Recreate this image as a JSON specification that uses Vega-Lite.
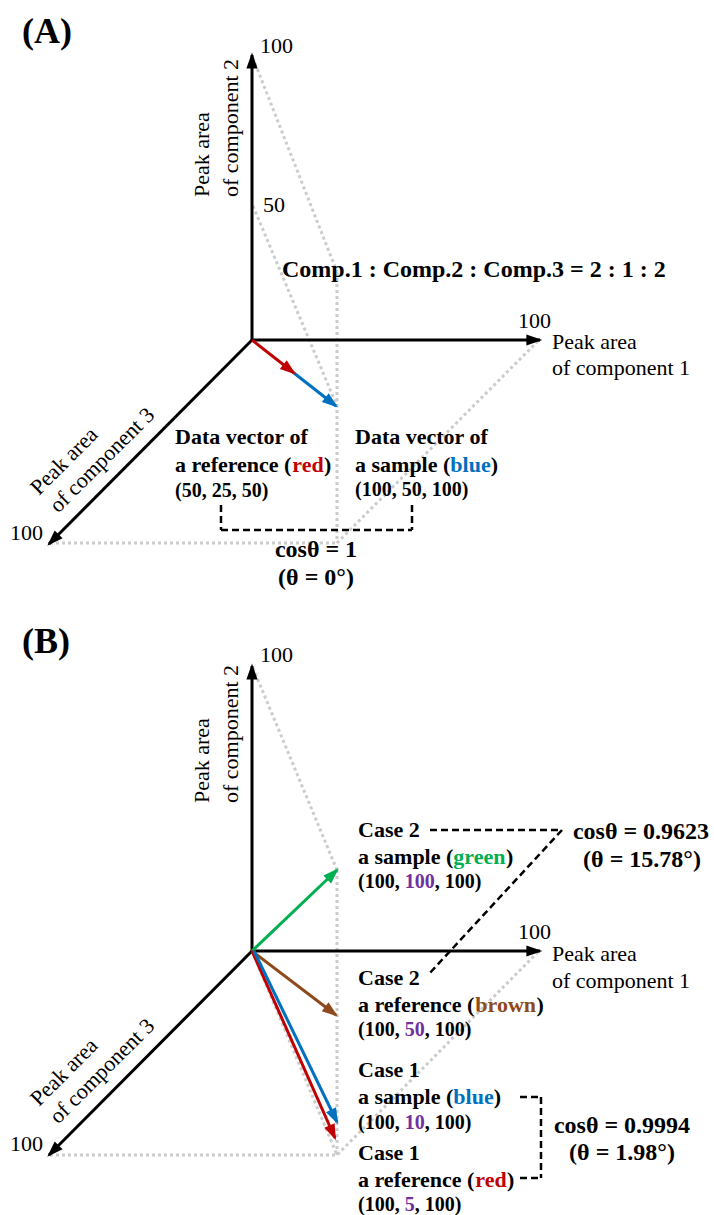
{
  "$schema": "https://vega.github.io/schema/vega-lite/v6.json",
  "width": 714,
  "height": 1215,
  "autosize": {"type": "fit", "contains": "padding"},
  "padding": 0,
  "background": "white",
  "config": {"view": {"stroke": null}, "font": "Liberation Serif"},
  "datasets": {
    "guides": [
      {"x": 253, "y": 58, "x2": 337, "y2": 272, "tone": "gray"},
      {"x": 337, "y": 272, "x2": 337, "y2": 543, "tone": "gray"},
      {"x": 253, "y": 206, "x2": 337, "y2": 406, "tone": "gray"},
      {"x": 50, "y": 543, "x2": 337, "y2": 543, "tone": "gray"},
      {"x": 538, "y": 341, "x2": 337, "y2": 543, "tone": "gray"},
      {"x": 253, "y": 668, "x2": 337, "y2": 870, "tone": "gray"},
      {"x": 337, "y": 870, "x2": 337, "y2": 1155, "tone": "gray"},
      {"x": 50, "y": 1155, "x2": 337, "y2": 1155, "tone": "gray"},
      {"x": 538, "y": 952, "x2": 337, "y2": 1155, "tone": "gray"},
      {"x": 252, "y": 951, "x2": 337, "y2": 1155, "tone": "gray"}
    ],
    "dashes": [
      {"x": 221, "y": 505, "x2": 221, "y2": 530, "tone": "black"},
      {"x": 221, "y": 530, "x2": 412, "y2": 530, "tone": "black"},
      {"x": 412, "y": 505, "x2": 412, "y2": 530, "tone": "black"},
      {"x": 430, "y": 830, "x2": 562, "y2": 830, "tone": "black"},
      {"x": 562, "y": 830, "x2": 428, "y2": 975, "tone": "black"},
      {"x": 520, "y": 1097, "x2": 541, "y2": 1097, "tone": "black"},
      {"x": 541, "y": 1097, "x2": 541, "y2": 1178, "tone": "black"},
      {"x": 520, "y": 1178, "x2": 541, "y2": 1178, "tone": "black"}
    ],
    "arrows": [
      {"x": 252, "y": 340, "x2": 252, "y2": 55, "tone": "black", "heading": 0},
      {"x": 252, "y": 340, "x2": 540, "y2": 340, "tone": "black", "heading": 90},
      {"x": 252, "y": 340, "x2": 49, "y2": 544, "tone": "black", "heading": 225},
      {"x": 252, "y": 340, "x2": 294, "y2": 373, "tone": "red", "heading": 128},
      {"x": 294, "y": 373, "x2": 336, "y2": 406, "tone": "blue", "heading": 128},
      {"x": 252, "y": 951, "x2": 252, "y2": 666, "tone": "black", "heading": 0},
      {"x": 252, "y": 951, "x2": 540, "y2": 951, "tone": "black", "heading": 90},
      {"x": 252, "y": 951, "x2": 49, "y2": 1155, "tone": "black", "heading": 225},
      {"x": 252, "y": 951, "x2": 337, "y2": 870, "tone": "green", "heading": 46},
      {"x": 252, "y": 951, "x2": 336, "y2": 1015, "tone": "brown", "heading": 127},
      {"x": 252, "y": 951, "x2": 335, "y2": 1138, "tone": "red", "heading": 156},
      {"x": 254, "y": 951, "x2": 337, "y2": 1122, "tone": "blue", "heading": 154}
    ],
    "texts": [
      {"x": 22, "y": 32, "text": "(A)", "style": "panel", "tone": "black"},
      {"x": 22, "y": 642, "text": "(B)", "style": "panel", "tone": "black"},
      {"x": 260, "y": 46, "text": "100", "style": "tick", "tone": "black"},
      {"x": 263, "y": 205, "text": "50", "style": "tick", "tone": "black"},
      {"x": 518, "y": 321, "text": "100", "style": "tick", "tone": "black"},
      {"x": 10, "y": 533, "text": "100", "style": "tick", "tone": "black"},
      {"x": 260, "y": 655, "text": "100", "style": "tick", "tone": "black"},
      {"x": 518, "y": 932, "text": "100", "style": "tick", "tone": "black"},
      {"x": 10, "y": 1144, "text": "100", "style": "tick", "tone": "black"},
      {"x": 552, "y": 342, "text": "Peak area", "style": "axis", "tone": "black"},
      {"x": 552, "y": 368, "text": "of component 1", "style": "axis", "tone": "black"},
      {"x": 552, "y": 954, "text": "Peak area", "style": "axis", "tone": "black"},
      {"x": 552, "y": 981, "text": "of component 1", "style": "axis", "tone": "black"},
      {"x": 202, "y": 197, "text": "Peak area", "style": "axisv", "tone": "black"},
      {"x": 231, "y": 197, "text": "of component 2", "style": "axisv", "tone": "black"},
      {"x": 202, "y": 803, "text": "Peak area", "style": "axisv", "tone": "black"},
      {"x": 231, "y": 803, "text": "of component 2", "style": "axisv", "tone": "black"},
      {"x": 64, "y": 461, "text": "Peak area", "style": "axisd", "tone": "black"},
      {"x": 102, "y": 460, "text": "of component 3", "style": "axisd", "tone": "black"},
      {"x": 64, "y": 1072, "text": "Peak area", "style": "axisd", "tone": "black"},
      {"x": 102, "y": 1071, "text": "of component 3", "style": "axisd", "tone": "black"},
      {"x": 282, "y": 270, "text": "Comp.1 : Comp.2 : Comp.3 = 2 : 1 : 2", "style": "title", "tone": "black"},
      {"x": 175, "y": 437, "text": "Data vector of", "style": "label", "tone": "black"},
      {"x": 175, "y": 465, "text": "a reference (", "style": "label", "tone": "black"},
      {"x": 292.3, "y": 465, "text": "red", "style": "label", "tone": "red"},
      {"x": 324.0, "y": 465, "text": ")", "style": "label", "tone": "black"},
      {"x": 175, "y": 491, "text": "(50, 25, 50)", "style": "coord", "tone": "black"},
      {"x": 355, "y": 437, "text": "Data vector of", "style": "label", "tone": "black"},
      {"x": 355, "y": 465, "text": "a sample (", "style": "label", "tone": "black"},
      {"x": 450.3, "y": 465, "text": "blue", "style": "label", "tone": "blue"},
      {"x": 490.7, "y": 465, "text": ")", "style": "label", "tone": "black"},
      {"x": 355, "y": 490, "text": "(100, 50, 100)", "style": "coord", "tone": "black"},
      {"x": 316, "y": 550, "text": "cosθ = 1", "style": "cos", "tone": "black"},
      {"x": 316, "y": 578, "text": "(θ = 0°)", "style": "cos", "tone": "black"},
      {"x": 358, "y": 830, "text": "Case 2", "style": "label", "tone": "black"},
      {"x": 358, "y": 857, "text": "a sample (", "style": "label", "tone": "black"},
      {"x": 453.3, "y": 857, "text": "green", "style": "label", "tone": "green"},
      {"x": 505.9, "y": 857, "text": ")", "style": "label", "tone": "black"},
      {"x": 358, "y": 882, "text": "(100, ", "style": "coord", "tone": "black"},
      {"x": 404.7, "y": 882, "text": "100", "style": "coord", "tone": "purple"},
      {"x": 434.7, "y": 882, "text": ", 100)", "style": "coord", "tone": "black"},
      {"x": 641, "y": 832, "text": "cosθ = 0.9623", "style": "cos", "tone": "black"},
      {"x": 642, "y": 860, "text": "(θ = 15.78°)", "style": "cos", "tone": "black"},
      {"x": 358, "y": 978, "text": "Case 2", "style": "label", "tone": "black"},
      {"x": 358, "y": 1005, "text": "a reference (", "style": "label", "tone": "black"},
      {"x": 475.3, "y": 1005, "text": "brown", "style": "label", "tone": "brown"},
      {"x": 536.4, "y": 1005, "text": ")", "style": "label", "tone": "black"},
      {"x": 358, "y": 1030, "text": "(100, ", "style": "coord", "tone": "black"},
      {"x": 404.7, "y": 1030, "text": "50", "style": "coord", "tone": "purple"},
      {"x": 424.7, "y": 1030, "text": ", 100)", "style": "coord", "tone": "black"},
      {"x": 358, "y": 1070, "text": "Case 1", "style": "label", "tone": "black"},
      {"x": 358, "y": 1097, "text": "a sample (", "style": "label", "tone": "black"},
      {"x": 453.3, "y": 1097, "text": "blue", "style": "label", "tone": "blue"},
      {"x": 493.7, "y": 1097, "text": ")", "style": "label", "tone": "black"},
      {"x": 358, "y": 1123, "text": "(100, ", "style": "coord", "tone": "black"},
      {"x": 404.7, "y": 1123, "text": "10", "style": "coord", "tone": "purple"},
      {"x": 424.7, "y": 1123, "text": ", 100)", "style": "coord", "tone": "black"},
      {"x": 358, "y": 1153, "text": "Case 1", "style": "label", "tone": "black"},
      {"x": 358, "y": 1180, "text": "a reference (", "style": "label", "tone": "black"},
      {"x": 475.3, "y": 1180, "text": "red", "style": "label", "tone": "red"},
      {"x": 507.0, "y": 1180, "text": ")", "style": "label", "tone": "black"},
      {"x": 358, "y": 1205, "text": "(100, ", "style": "coord", "tone": "black"},
      {"x": 404.7, "y": 1205, "text": "5", "style": "coord", "tone": "purple"},
      {"x": 414.7, "y": 1205, "text": ", 100)", "style": "coord", "tone": "black"},
      {"x": 622, "y": 1126, "text": "cosθ = 0.9994", "style": "cos", "tone": "black"},
      {"x": 622, "y": 1153, "text": "(θ = 1.98°)", "style": "cos", "tone": "black"}
    ]
  },
  "layer": [
    {
      "data": {"name": "guides"},
      "mark": {"type": "rule", "strokeWidth": 3, "strokeDash": [3, 3]},
      "encoding": {
        "x": {"field": "x", "type": "quantitative", "scale": {"domain": [0, 714], "nice": false, "zero": false}, "axis": null},
        "y": {"field": "y", "type": "quantitative", "scale": {"domain": [0, 1215], "nice": false, "zero": false, "reverse": true}, "axis": null},
        "x2": {"field": "x2"},
        "y2": {"field": "y2"},
        "color": {"field": "tone", "type": "nominal", "scale": {"domain": ["black", "red", "blue", "green", "brown", "purple", "gray"], "range": ["#000000", "#C00000", "#0070C0", "#00B050", "#8E4A1C", "#7030A0", "#CCCCCC"]}, "legend": null}
      }
    },
    {
      "data": {"name": "dashes"},
      "mark": {"type": "rule", "strokeWidth": 2.5, "strokeDash": [7, 4]},
      "encoding": {
        "x": {"field": "x", "type": "quantitative", "scale": {"domain": [0, 714], "nice": false, "zero": false}, "axis": null},
        "y": {"field": "y", "type": "quantitative", "scale": {"domain": [0, 1215], "nice": false, "zero": false, "reverse": true}, "axis": null},
        "x2": {"field": "x2"},
        "y2": {"field": "y2"},
        "color": {"field": "tone", "type": "nominal", "legend": null}
      }
    },
    {
      "data": {"name": "arrows"},
      "mark": {"type": "rule", "strokeWidth": 3},
      "encoding": {
        "x": {"field": "x", "type": "quantitative", "scale": {"domain": [0, 714], "nice": false, "zero": false}, "axis": null},
        "y": {"field": "y", "type": "quantitative", "scale": {"domain": [0, 1215], "nice": false, "zero": false, "reverse": true}, "axis": null},
        "x2": {"field": "x2"},
        "y2": {"field": "y2"},
        "color": {"field": "tone", "type": "nominal", "legend": null}
      }
    },
    {
      "data": {"name": "arrows"},
      "mark": {"type": "point", "shape": "M0,-0.3L0.7,1.7L-0.7,1.7Z", "filled": true, "opacity": 1, "size": 256, "strokeWidth": 0},
      "encoding": {
        "x": {"field": "x2", "type": "quantitative", "scale": {"domain": [0, 714], "nice": false, "zero": false}, "axis": null},
        "y": {"field": "y2", "type": "quantitative", "scale": {"domain": [0, 1215], "nice": false, "zero": false, "reverse": true}, "axis": null},
        "angle": {"field": "heading", "type": "quantitative", "scale": null},
        "color": {"field": "tone", "type": "nominal", "legend": null}
      }
    },
    {
      "data": {"name": "texts"},
      "transform": [{"filter": "datum.style === 'panel'"}],
      "mark": {"type": "text", "font": "Liberation Serif", "fontSize": 36, "fontWeight": "bold", "align": "left", "baseline": "middle"},
      "encoding": {
        "x": {"field": "x", "type": "quantitative", "scale": {"domain": [0, 714], "nice": false, "zero": false}, "axis": null},
        "y": {"field": "y", "type": "quantitative", "scale": {"domain": [0, 1215], "nice": false, "zero": false, "reverse": true}, "axis": null},
        "text": {"field": "text"},
        "color": {"field": "tone", "type": "nominal", "legend": null}
      }
    },
    {
      "data": {"name": "texts"},
      "transform": [{"filter": "datum.style === 'tick' || datum.style === 'axis'"}],
      "mark": {"type": "text", "font": "Liberation Serif", "fontSize": 22, "align": "left", "baseline": "middle"},
      "encoding": {
        "x": {"field": "x", "type": "quantitative", "scale": {"domain": [0, 714], "nice": false, "zero": false}, "axis": null},
        "y": {"field": "y", "type": "quantitative", "scale": {"domain": [0, 1215], "nice": false, "zero": false, "reverse": true}, "axis": null},
        "text": {"field": "text"},
        "color": {"field": "tone", "type": "nominal", "legend": null}
      }
    },
    {
      "data": {"name": "texts"},
      "transform": [{"filter": "datum.style === 'axisv'"}],
      "mark": {"type": "text", "font": "Liberation Serif", "fontSize": 22, "align": "left", "baseline": "middle", "angle": 270},
      "encoding": {
        "x": {"field": "x", "type": "quantitative", "scale": {"domain": [0, 714], "nice": false, "zero": false}, "axis": null},
        "y": {"field": "y", "type": "quantitative", "scale": {"domain": [0, 1215], "nice": false, "zero": false, "reverse": true}, "axis": null},
        "text": {"field": "text"},
        "color": {"field": "tone", "type": "nominal", "legend": null}
      }
    },
    {
      "data": {"name": "texts"},
      "transform": [{"filter": "datum.style === 'axisd'"}],
      "mark": {"type": "text", "font": "Liberation Serif", "fontSize": 22, "align": "center", "baseline": "middle", "angle": 315},
      "encoding": {
        "x": {"field": "x", "type": "quantitative", "scale": {"domain": [0, 714], "nice": false, "zero": false}, "axis": null},
        "y": {"field": "y", "type": "quantitative", "scale": {"domain": [0, 1215], "nice": false, "zero": false, "reverse": true}, "axis": null},
        "text": {"field": "text"},
        "color": {"field": "tone", "type": "nominal", "legend": null}
      }
    },
    {
      "data": {"name": "texts"},
      "transform": [{"filter": "datum.style === 'title'"}],
      "mark": {"type": "text", "font": "Liberation Serif", "fontSize": 24, "fontWeight": "bold", "align": "left", "baseline": "middle"},
      "encoding": {
        "x": {"field": "x", "type": "quantitative", "scale": {"domain": [0, 714], "nice": false, "zero": false}, "axis": null},
        "y": {"field": "y", "type": "quantitative", "scale": {"domain": [0, 1215], "nice": false, "zero": false, "reverse": true}, "axis": null},
        "text": {"field": "text"},
        "color": {"field": "tone", "type": "nominal", "legend": null}
      }
    },
    {
      "data": {"name": "texts"},
      "transform": [{"filter": "datum.style === 'label'"}],
      "mark": {"type": "text", "font": "Liberation Serif", "fontSize": 22, "fontWeight": "bold", "align": "left", "baseline": "middle"},
      "encoding": {
        "x": {"field": "x", "type": "quantitative", "scale": {"domain": [0, 714], "nice": false, "zero": false}, "axis": null},
        "y": {"field": "y", "type": "quantitative", "scale": {"domain": [0, 1215], "nice": false, "zero": false, "reverse": true}, "axis": null},
        "text": {"field": "text"},
        "color": {"field": "tone", "type": "nominal", "legend": null}
      }
    },
    {
      "data": {"name": "texts"},
      "transform": [{"filter": "datum.style === 'coord'"}],
      "mark": {"type": "text", "font": "Liberation Serif", "fontSize": 20, "fontWeight": "bold", "align": "left", "baseline": "middle"},
      "encoding": {
        "x": {"field": "x", "type": "quantitative", "scale": {"domain": [0, 714], "nice": false, "zero": false}, "axis": null},
        "y": {"field": "y", "type": "quantitative", "scale": {"domain": [0, 1215], "nice": false, "zero": false, "reverse": true}, "axis": null},
        "text": {"field": "text"},
        "color": {"field": "tone", "type": "nominal", "legend": null}
      }
    },
    {
      "data": {"name": "texts"},
      "transform": [{"filter": "datum.style === 'cos'"}],
      "mark": {"type": "text", "font": "Liberation Serif", "fontSize": 24, "fontWeight": "bold", "align": "center", "baseline": "middle"},
      "encoding": {
        "x": {"field": "x", "type": "quantitative", "scale": {"domain": [0, 714], "nice": false, "zero": false}, "axis": null},
        "y": {"field": "y", "type": "quantitative", "scale": {"domain": [0, 1215], "nice": false, "zero": false, "reverse": true}, "axis": null},
        "text": {"field": "text"},
        "color": {"field": "tone", "type": "nominal", "legend": null}
      }
    }
  ]
}
